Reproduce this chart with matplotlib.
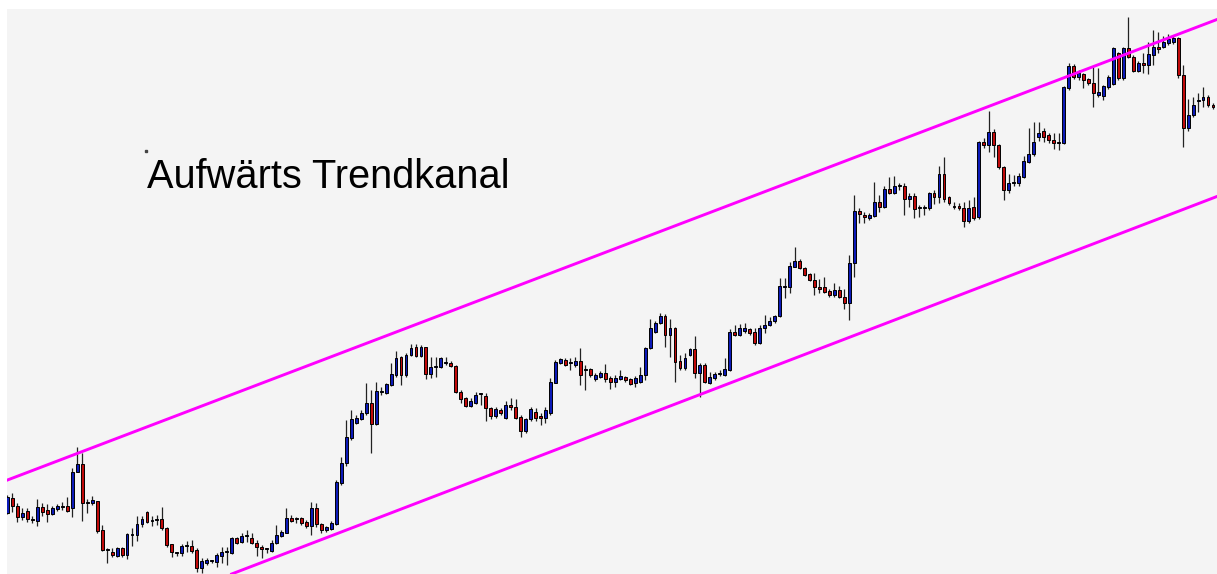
import matplotlib
matplotlib.use("Agg")
import matplotlib.pyplot as plt
import numpy as np

# OHLC candles (arbitrary price units)
opens = [61, 76, 68, 57, 63, 55, 53, 67, 64, 60, 65, 67, 68, 66, 102, 110, 71, 71, 73, 44,
         24, 22, 18, 26, 19, 39, 39, 50, 62, 53, 54, 55, 46, 30, 21, 21, 28, 28, 24, 6,
         11, 13, 12, 18, 22, 21, 36, 32, 38, 36, 31, 27, 25, 23, 31, 38, 41, 56, 55, 56,
         52, 48, 66, 50, 44, 45, 50, 91, 111, 136, 151, 155, 161, 171, 150, 182, 181, 189, 199, 217,
         199, 219, 227, 218, 227, 200, 207, 207, 211, 211, 208, 182, 176, 168, 171, 180, 178, 166, 158, 164,
         156, 169, 167, 157, 143, 155, 162, 158, 156, 161, 191, 211, 214, 211, 209, 213, 204, 205, 195, 197,
         201, 196, 192, 195, 197, 195, 191, 192, 199, 226, 242, 251, 258, 239, 246, 213, 206, 219, 225, 201,
         209, 191, 196, 200, 199, 204, 242, 239, 243, 245, 242, 231, 246, 249, 253, 258, 287, 287, 307, 313,
         306, 300, 294, 287, 287, 283, 279, 284, 277, 271, 311, 363, 359, 356, 358, 372, 367, 385, 381, 388,
         388, 375, 378, 366, 366, 366, 381, 377, 400, 377, 367, 368, 366, 353, 367, 357, 432, 429, 442, 429,
         407, 384, 391, 391, 397, 412, 420, 437, 443, 439, 434, 431, 431, 486, 508, 497, 500, 495, 491, 479,
         478, 487, 490, 521, 496, 526, 517, 503, 511, 509, 519, 527, 527, 531, 532, 536, 499, 446, 459, 473,
         474, 477, 469]
highs = [79, 81, 71, 66, 66, 58, 75, 71, 70, 68, 70, 72, 77, 106, 127, 121, 75, 78, 73, 49,
         26, 26, 27, 27, 41, 46, 58, 58, 63, 58, 59, 67, 47, 30, 22, 30, 33, 34, 26, 16,
         16, 14, 21, 27, 27, 37, 37, 41, 44, 41, 34, 29, 26, 34, 49, 44, 66, 59, 57, 57,
         54, 72, 71, 51, 48, 53, 94, 117, 154, 164, 159, 164, 191, 184, 192, 187, 191, 211, 223, 218,
         221, 230, 230, 229, 227, 217, 217, 217, 217, 213, 209, 184, 177, 176, 182, 181, 181, 167, 167, 166,
         173, 176, 175, 159, 156, 167, 166, 161, 167, 196, 214, 216, 216, 216, 217, 226, 209, 206, 201, 203,
         210, 198, 199, 204, 198, 196, 198, 207, 227, 255, 253, 261, 260, 255, 247, 219, 221, 226, 238, 211,
         211, 202, 202, 204, 216, 245, 249, 250, 251, 246, 246, 249, 259, 257, 259, 296, 296, 312, 327, 315,
         307, 301, 301, 295, 297, 285, 291, 288, 285, 319, 379, 366, 362, 361, 392, 379, 388, 397, 398, 391,
         391, 381, 381, 369, 369, 382, 384, 408, 417, 378, 372, 371, 372, 374, 377, 433, 436, 463, 445, 430,
         408, 400, 399, 401, 418, 446, 452, 452, 446, 441, 441, 441, 488, 511, 510, 504, 501, 496, 507, 506,
         489, 499, 527, 522, 527, 557, 519, 513, 521, 532, 544, 542, 538, 540, 538, 537, 509, 475, 477, 481,
         487, 479, 471]
lows = [60, 62, 52, 54, 52, 51, 48, 58, 52, 59, 63, 64, 62, 57, 102, 53, 61, 69, 41, 23,
        11, 17, 17, 17, 15, 28, 33, 47, 51, 48, 49, 44, 27, 17, 18, 18, 22, 21, 2, 1,
        9, 11, 7, 11, 9, 20, 30, 31, 32, 30, 18, 16, 21, 22, 30, 37, 41, 52, 51, 49,
        46, 39, 47, 41, 42, 44, 49, 89, 108, 134, 150, 154, 159, 121, 149, 179, 180, 188, 197, 189,
        197, 218, 217, 217, 195, 196, 197, 206, 209, 207, 181, 171, 167, 167, 170, 169, 153, 155, 156, 159,
        155, 164, 155, 137, 141, 153, 153, 149, 151, 159, 191, 210, 208, 204, 207, 189, 184, 197, 193, 196,
        192, 185, 187, 194, 192, 189, 187, 191, 194, 225, 241, 250, 227, 217, 192, 204, 204, 218, 196, 177,
        191, 190, 194, 198, 198, 203, 238, 238, 241, 239, 229, 230, 241, 248, 251, 257, 276, 281, 307, 305,
        298, 293, 279, 281, 281, 277, 277, 276, 265, 254, 297, 351, 351, 354, 357, 362, 366, 380, 380, 384,
        359, 367, 356, 357, 359, 364, 370, 371, 372, 369, 365, 364, 347, 351, 354, 355, 426, 422, 417, 405,
        374, 381, 388, 388, 396, 411, 418, 433, 432, 431, 425, 424, 430, 484, 495, 494, 486, 489, 467, 477,
        474, 485, 489, 494, 494, 516, 502, 502, 501, 500, 509, 521, 526, 529, 530, 496, 427, 443, 457, 462,
        467, 467, 465]
closes = [77, 68, 57, 61, 55, 54, 67, 62, 60, 66, 68, 68, 63, 102, 110, 71, 72, 74, 43, 24,
          25, 19, 26, 19, 40, 40, 50, 55, 52, 53, 54, 46, 29, 22, 21, 28, 28, 23, 6, 13,
          14, 13, 19, 22, 22, 36, 31, 38, 38, 31, 27, 25, 25, 31, 39, 42, 56, 53, 55, 51,
          48, 66, 50, 44, 47, 51, 92, 111, 137, 155, 156, 161, 171, 150, 183, 182, 190, 200, 216, 199,
          219, 226, 218, 227, 200, 207, 207, 216, 211, 208, 182, 175, 168, 173, 179, 180, 166, 158, 165, 161,
          169, 167, 156, 143, 155, 165, 156, 156, 164, 192, 212, 215, 209, 211, 213, 199, 204, 199, 199, 201,
          195, 192, 196, 198, 194, 190, 196, 199, 226, 246, 251, 258, 239, 246, 212, 206, 216, 225, 201, 209,
          192, 197, 200, 200, 205, 242, 239, 246, 246, 241, 231, 246, 249, 253, 258, 288, 288, 308, 313, 306,
          299, 294, 287, 285, 282, 279, 284, 277, 271, 311, 363, 360, 357, 359, 372, 367, 385, 381, 388, 388,
          375, 378, 365, 366, 366, 381, 377, 400, 375, 371, 367, 366, 353, 366, 356, 432, 429, 442, 429, 407,
          384, 391, 391, 398, 413, 420, 432, 441, 437, 434, 431, 431, 487, 508, 497, 501, 494, 491, 481, 482,
          488, 497, 526, 496, 526, 517, 503, 511, 509, 520, 527, 525, 532, 535, 536, 499, 446, 459, 469, 474,
          477, 469, 467]

# channel anchors (candle index, price)
upper_pts = [(0, 94), (242, 553)]
lower_pts = [(45, 0), (242, 376)]

title = "Aufwärts Trendkanal"

o = np.array(opens)
h = np.array(highs)
l = np.array(lows)
c = np.array(closes)
idx = np.arange(len(o))

fig = plt.figure(figsize=(12.17, 5.74), dpi=100)
fig.patch.set_facecolor("white")
ax = fig.add_axes([7 / 1217, 0, 1210 / 1217, 565 / 574])
ax.set_facecolor("#f4f4f4")

cols = np.where(c >= o, "#0c1ab8", "#c00a0a")
bottom = np.minimum(o, c)
height = np.maximum(np.abs(c - o), 0.8)

ax.vlines(idx, l, h, color="#222222", linewidth=0.9, zorder=2)
ax.bar(idx, height, bottom=bottom, width=0.58, color=cols, edgecolor="black",
       linewidth=0.7, zorder=3)

ax.axline(upper_pts[0], upper_pts[1], color="#ff00ff", linewidth=2.1, zorder=4)
ax.axline(lower_pts[0], lower_pts[1], color="#ff00ff", linewidth=2.1, zorder=4)

ax.text(0.1157, 0.683, title, transform=ax.transAxes, fontsize=28.6,
        family="Liberation Sans", color="black", va="baseline", ha="left")
ax.plot([0.1147], [0.748], marker="s", markersize=2, color="#444444",
        transform=ax.transAxes)

ax.set_xlim(-0.1, 242.8)
ax.set_ylim(0, 565)
ax.set_xticks([])
ax.set_yticks([])
for s in ax.spines.values():
    s.set_visible(False)

fig.savefig("out.png", dpi=100, facecolor="white")
